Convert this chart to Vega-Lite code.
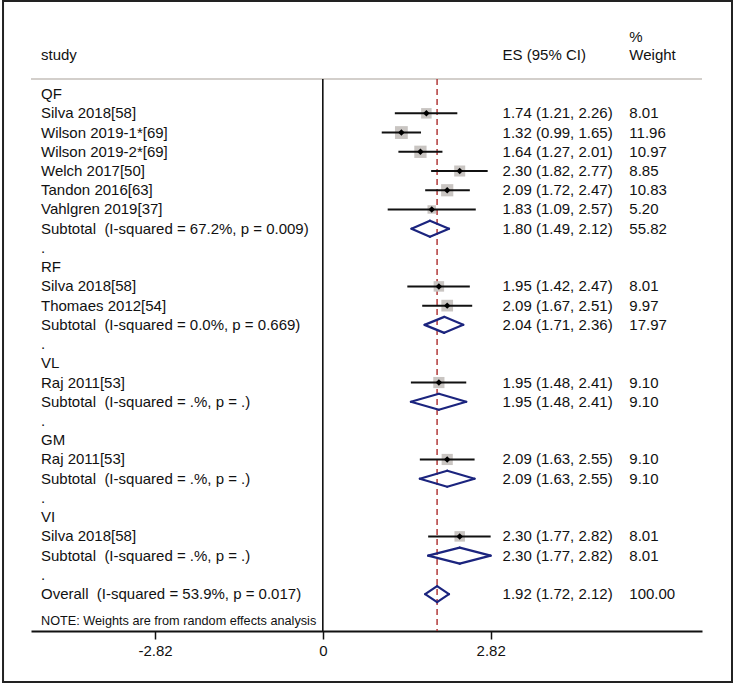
{
  "$schema": "https://vega.github.io/schema/vega-lite/v6.json",
  "width": 671,
  "height": 552,
  "autosize": {"type": "none"},
  "padding": {"left": 31, "top": 79, "right": 33, "bottom": 53},
  "background": "white",
  "config": {
    "view": {"stroke": null},
    "font": "Liberation Sans",
    "text": {"font": "Liberation Sans", "fontSize": 15, "color": "#111111"},
    "axisX": {
      "labelExpr": "toString(datum.value)",
      "grid": false,
      "domainColor": "#111111",
      "domainWidth": 1.8,
      "tickColor": "#111111",
      "tickWidth": 1.5,
      "tickSize": 8,
      "labelFont": "Liberation Sans",
      "labelFontSize": 15,
      "labelColor": "#111111",
      "labelPadding": 4,
      "labelFlush": false,
      "labelOverlap": false
    }
  },
  "datasets": {
    "rows": [
      {"row": 0, "label": "QF", "type": "group"},
      {"row": 1, "label": "Silva 2018[58]", "type": "study", "es": 1.74, "lo": 1.21, "hi": 2.26, "w": 8.01, "esText": "1.74 (1.21, 2.26)", "wText": "8.01"},
      {"row": 2, "label": "Wilson 2019-1*[69]", "type": "study", "es": 1.32, "lo": 0.99, "hi": 1.65, "w": 11.96, "esText": "1.32 (0.99, 1.65)", "wText": "11.96"},
      {"row": 3, "label": "Wilson 2019-2*[69]", "type": "study", "es": 1.64, "lo": 1.27, "hi": 2.01, "w": 10.97, "esText": "1.64 (1.27, 2.01)", "wText": "10.97"},
      {"row": 4, "label": "Welch 2017[50]", "type": "study", "es": 2.30, "lo": 1.82, "hi": 2.77, "w": 8.85, "esText": "2.30 (1.82, 2.77)", "wText": "8.85"},
      {"row": 5, "label": "Tandon 2016[63]", "type": "study", "es": 2.09, "lo": 1.72, "hi": 2.47, "w": 10.83, "esText": "2.09 (1.72, 2.47)", "wText": "10.83"},
      {"row": 6, "label": "Vahlgren 2019[37]", "type": "study", "es": 1.83, "lo": 1.09, "hi": 2.57, "w": 5.20, "esText": "1.83 (1.09, 2.57)", "wText": "5.20"},
      {"row": 7, "label": "Subtotal\u00a0 (I-squared = 67.2%, p = 0.009)", "type": "sub", "es": 1.80, "lo": 1.49, "hi": 2.12, "w": 55.82, "esText": "1.80 (1.49, 2.12)", "wText": "55.82"},
      {"row": 8, "label": ".", "type": "blank"},
      {"row": 9, "label": "RF", "type": "group"},
      {"row": 10, "label": "Silva 2018[58]", "type": "study", "es": 1.95, "lo": 1.42, "hi": 2.47, "w": 8.01, "esText": "1.95 (1.42, 2.47)", "wText": "8.01"},
      {"row": 11, "label": "Thomaes 2012[54]", "type": "study", "es": 2.09, "lo": 1.67, "hi": 2.51, "w": 9.97, "esText": "2.09 (1.67, 2.51)", "wText": "9.97"},
      {"row": 12, "label": "Subtotal\u00a0 (I-squared = 0.0%, p = 0.669)", "type": "sub", "es": 2.04, "lo": 1.71, "hi": 2.36, "w": 17.97, "esText": "2.04 (1.71, 2.36)", "wText": "17.97"},
      {"row": 13, "label": ".", "type": "blank"},
      {"row": 14, "label": "VL", "type": "group"},
      {"row": 15, "label": "Raj 2011[53]", "type": "study", "es": 1.95, "lo": 1.48, "hi": 2.41, "w": 9.10, "esText": "1.95 (1.48, 2.41)", "wText": "9.10"},
      {"row": 16, "label": "Subtotal\u00a0 (I-squared = .%, p = .)", "type": "sub", "es": 1.95, "lo": 1.48, "hi": 2.41, "w": 9.10, "esText": "1.95 (1.48, 2.41)", "wText": "9.10"},
      {"row": 17, "label": ".", "type": "blank"},
      {"row": 18, "label": "GM", "type": "group"},
      {"row": 19, "label": "Raj 2011[53]", "type": "study", "es": 2.09, "lo": 1.63, "hi": 2.55, "w": 9.10, "esText": "2.09 (1.63, 2.55)", "wText": "9.10"},
      {"row": 20, "label": "Subtotal\u00a0 (I-squared = .%, p = .)", "type": "sub", "es": 2.09, "lo": 1.63, "hi": 2.55, "w": 9.10, "esText": "2.09 (1.63, 2.55)", "wText": "9.10"},
      {"row": 21, "label": ".", "type": "blank"},
      {"row": 22, "label": "VI", "type": "group"},
      {"row": 23, "label": "Silva 2018[58]", "type": "study", "es": 2.30, "lo": 1.77, "hi": 2.82, "w": 8.01, "esText": "2.30 (1.77, 2.82)", "wText": "8.01"},
      {"row": 24, "label": "Subtotal\u00a0 (I-squared = .%, p = .)", "type": "sub", "es": 2.30, "lo": 1.77, "hi": 2.82, "w": 8.01, "esText": "2.30 (1.77, 2.82)", "wText": "8.01"},
      {"row": 25, "label": ".", "type": "blank"},
      {"row": 26, "label": "Overall\u00a0 (I-squared = 53.9%, p = 0.017)", "type": "overall", "es": 1.92, "lo": 1.72, "hi": 2.12, "w": 100.00, "esText": "1.92 (1.72, 2.12)", "wText": "100.00"}
    ]
  },
  "data": {"name": "rows"},
  "layer": [
    {
      "data": {"values": [{}]},
      "mark": {"type": "rect", "filled": false, "stroke": "#222222", "strokeWidth": 2},
      "encoding": {
        "x": {"datum": -5.373, "type": "quantitative", "title": null, "scale": {"domain": [-4.903, 6.371], "nice": false, "zero": false}, "axis": {"values": [-2.82, 0, 2.82]}},
        "x2": {"datum": 6.875},
        "y": {"datum": -4.841, "type": "quantitative", "scale": {"domain": [-0.785, 27.92], "nice": false, "zero": false, "reverse": true}, "axis": null},
        "y2": {"datum": 30.57}
      }
    },
    {
      "data": {"values": [{}]},
      "mark": {"type": "rule", "color": "#d3cfcb", "strokeWidth": 1.8},
      "encoding": {
        "y": {"datum": -0.785, "type": "quantitative", "scale": {"domain": [-0.785, 27.92], "nice": false, "zero": false, "reverse": true}, "axis": null}
      }
    },
    {
      "data": {"values": [{}]},
      "mark": {"type": "rule", "color": "#111111", "strokeWidth": 1.6},
      "encoding": {
        "x": {"datum": 0, "type": "quantitative", "title": null, "scale": {"domain": [-4.903, 6.371], "nice": false, "zero": false}, "axis": {"values": [-2.82, 0, 2.82]}}
      }
    },
    {
      "transform": [{"filter": "datum.type == 'overall'"}],
      "mark": {"type": "rule", "color": "#b23a3a", "strokeWidth": 1.5, "strokeDash": [6, 4]},
      "encoding": {
        "x": {"field": "es", "type": "quantitative", "title": null, "scale": {"domain": [-4.903, 6.371], "nice": false, "zero": false}, "axis": {"values": [-2.82, 0, 2.82]}}
      }
    },
    {
      "transform": [{"filter": "datum.type == 'study'"}],
      "mark": {"type": "point", "shape": "square", "filled": true, "color": "#c9c5c2", "opacity": 1},
      "encoding": {
        "x": {"field": "es", "type": "quantitative", "title": null, "scale": {"domain": [-4.903, 6.371], "nice": false, "zero": false}, "axis": {"values": [-2.82, 0, 2.82]}},
        "y": {"field": "row", "type": "quantitative", "scale": {"domain": [-0.785, 27.92], "nice": false, "zero": false, "reverse": true}, "axis": null},
        "size": {"field": "w", "type": "quantitative", "scale": {"type": "linear", "domain": [0, 12], "range": [0, 165]}, "legend": null}
      }
    },
    {
      "transform": [{"filter": "datum.type == 'study'"}],
      "mark": {"type": "rule", "color": "#111111", "strokeWidth": 2},
      "encoding": {
        "x": {"field": "lo", "type": "quantitative", "title": null, "scale": {"domain": [-4.903, 6.371], "nice": false, "zero": false}, "axis": {"values": [-2.82, 0, 2.82]}},
        "x2": {"field": "hi"},
        "y": {"field": "row", "type": "quantitative", "scale": {"domain": [-0.785, 27.92], "nice": false, "zero": false, "reverse": true}, "axis": null}
      }
    },
    {
      "transform": [{"filter": "datum.type == 'study'"}],
      "mark": {"type": "point", "shape": "diamond", "filled": true, "color": "#000000", "size": 42, "opacity": 1},
      "encoding": {
        "x": {"field": "es", "type": "quantitative", "title": null, "scale": {"domain": [-4.903, 6.371], "nice": false, "zero": false}, "axis": {"values": [-2.82, 0, 2.82]}},
        "y": {"field": "row", "type": "quantitative", "scale": {"domain": [-0.785, 27.92], "nice": false, "zero": false, "reverse": true}, "axis": null}
      }
    },
    {
      "transform": [{"filter": "datum.type == 'sub' || datum.type == 'overall'"}],
      "mark": {"type": "rule", "color": "#1b247e", "strokeWidth": 2.2, "strokeCap": "round", "y2Offset": -8},
      "encoding": {
        "x": {"field": "lo", "type": "quantitative", "title": null, "scale": {"domain": [-4.903, 6.371], "nice": false, "zero": false}, "axis": {"values": [-2.82, 0, 2.82]}},
        "x2": {"field": "es"},
        "y": {"field": "row", "type": "quantitative", "scale": {"domain": [-0.785, 27.92], "nice": false, "zero": false, "reverse": true}, "axis": null},
        "y2": {"field": "row"}
      }
    },
    {
      "transform": [{"filter": "datum.type == 'sub' || datum.type == 'overall'"}],
      "mark": {"type": "rule", "color": "#1b247e", "strokeWidth": 2.2, "strokeCap": "round", "y2Offset": 8},
      "encoding": {
        "x": {"field": "lo", "type": "quantitative", "title": null, "scale": {"domain": [-4.903, 6.371], "nice": false, "zero": false}, "axis": {"values": [-2.82, 0, 2.82]}},
        "x2": {"field": "es"},
        "y": {"field": "row", "type": "quantitative", "scale": {"domain": [-0.785, 27.92], "nice": false, "zero": false, "reverse": true}, "axis": null},
        "y2": {"field": "row"}
      }
    },
    {
      "transform": [{"filter": "datum.type == 'sub' || datum.type == 'overall'"}],
      "mark": {"type": "rule", "color": "#1b247e", "strokeWidth": 2.2, "strokeCap": "round", "yOffset": -8},
      "encoding": {
        "x": {"field": "es", "type": "quantitative", "title": null, "scale": {"domain": [-4.903, 6.371], "nice": false, "zero": false}, "axis": {"values": [-2.82, 0, 2.82]}},
        "x2": {"field": "hi"},
        "y": {"field": "row", "type": "quantitative", "scale": {"domain": [-0.785, 27.92], "nice": false, "zero": false, "reverse": true}, "axis": null},
        "y2": {"field": "row"}
      }
    },
    {
      "transform": [{"filter": "datum.type == 'sub' || datum.type == 'overall'"}],
      "mark": {"type": "rule", "color": "#1b247e", "strokeWidth": 2.2, "strokeCap": "round", "yOffset": 8},
      "encoding": {
        "x": {"field": "es", "type": "quantitative", "title": null, "scale": {"domain": [-4.903, 6.371], "nice": false, "zero": false}, "axis": {"values": [-2.82, 0, 2.82]}},
        "x2": {"field": "hi"},
        "y": {"field": "row", "type": "quantitative", "scale": {"domain": [-0.785, 27.92], "nice": false, "zero": false, "reverse": true}, "axis": null},
        "y2": {"field": "row"}
      }
    },
    {
      "mark": {"type": "text", "align": "left", "baseline": "middle", "fontSize": 15},
      "encoding": {
        "x": {"datum": -4.735, "type": "quantitative", "title": null, "scale": {"domain": [-4.903, 6.371], "nice": false, "zero": false}, "axis": {"values": [-2.82, 0, 2.82]}},
        "y": {"field": "row", "type": "quantitative", "scale": {"domain": [-0.785, 27.92], "nice": false, "zero": false, "reverse": true}, "axis": null},
        "text": {"field": "label", "type": "nominal"}
      }
    },
    {
      "transform": [{"filter": "isValid(datum.esText)"}],
      "mark": {"type": "text", "align": "left", "baseline": "middle", "fontSize": 15},
      "encoding": {
        "x": {"datum": 3.02, "type": "quantitative", "title": null, "scale": {"domain": [-4.903, 6.371], "nice": false, "zero": false}, "axis": {"values": [-2.82, 0, 2.82]}},
        "y": {"field": "row", "type": "quantitative", "scale": {"domain": [-0.785, 27.92], "nice": false, "zero": false, "reverse": true}, "axis": null},
        "text": {"field": "esText", "type": "nominal"}
      }
    },
    {
      "transform": [{"filter": "isValid(datum.wText)"}],
      "mark": {"type": "text", "align": "left", "baseline": "middle", "fontSize": 15},
      "encoding": {
        "x": {"datum": 5.15, "type": "quantitative", "title": null, "scale": {"domain": [-4.903, 6.371], "nice": false, "zero": false}, "axis": {"values": [-2.82, 0, 2.82]}},
        "y": {"field": "row", "type": "quantitative", "scale": {"domain": [-0.785, 27.92], "nice": false, "zero": false, "reverse": true}, "axis": null},
        "text": {"field": "wText", "type": "nominal"}
      }
    },
    {
      "data": {"values": [{"t": "study"}]},
      "mark": {"type": "text", "align": "left", "baseline": "middle", "fontSize": 15},
      "encoding": {
        "x": {"datum": -4.735, "type": "quantitative", "title": null, "scale": {"domain": [-4.903, 6.371], "nice": false, "zero": false}, "axis": {"values": [-2.82, 0, 2.82]}},
        "y": {"datum": -2.03, "type": "quantitative", "scale": {"domain": [-0.785, 27.92], "nice": false, "zero": false, "reverse": true}, "axis": null},
        "text": {"field": "t", "type": "nominal"}
      }
    },
    {
      "data": {"values": [{"t": "ES (95% CI)"}]},
      "mark": {"type": "text", "align": "left", "baseline": "middle", "fontSize": 15},
      "encoding": {
        "x": {"datum": 3.02, "type": "quantitative", "title": null, "scale": {"domain": [-4.903, 6.371], "nice": false, "zero": false}, "axis": {"values": [-2.82, 0, 2.82]}},
        "y": {"datum": -2.03, "type": "quantitative", "scale": {"domain": [-0.785, 27.92], "nice": false, "zero": false, "reverse": true}, "axis": null},
        "text": {"field": "t", "type": "nominal"}
      }
    },
    {
      "data": {"values": [{"t": "Weight"}]},
      "mark": {"type": "text", "align": "left", "baseline": "middle", "fontSize": 15},
      "encoding": {
        "x": {"datum": 5.15, "type": "quantitative", "title": null, "scale": {"domain": [-4.903, 6.371], "nice": false, "zero": false}, "axis": {"values": [-2.82, 0, 2.82]}},
        "y": {"datum": -2.03, "type": "quantitative", "scale": {"domain": [-0.785, 27.92], "nice": false, "zero": false, "reverse": true}, "axis": null},
        "text": {"field": "t", "type": "nominal"}
      }
    },
    {
      "data": {"values": [{"t": "%"}]},
      "mark": {"type": "text", "align": "left", "baseline": "middle", "fontSize": 15},
      "encoding": {
        "x": {"datum": 5.15, "type": "quantitative", "title": null, "scale": {"domain": [-4.903, 6.371], "nice": false, "zero": false}, "axis": {"values": [-2.82, 0, 2.82]}},
        "y": {"datum": -2.97, "type": "quantitative", "scale": {"domain": [-0.785, 27.92], "nice": false, "zero": false, "reverse": true}, "axis": null},
        "text": {"field": "t", "type": "nominal"}
      }
    },
    {
      "data": {"values": [{"t": "NOTE: Weights are from random effects analysis"}]},
      "mark": {"type": "text", "align": "left", "baseline": "middle", "fontSize": 12.7},
      "encoding": {
        "x": {"datum": -4.735, "type": "quantitative", "title": null, "scale": {"domain": [-4.903, 6.371], "nice": false, "zero": false}, "axis": {"values": [-2.82, 0, 2.82]}},
        "y": {"datum": 27.4, "type": "quantitative", "scale": {"domain": [-0.785, 27.92], "nice": false, "zero": false, "reverse": true}, "axis": null},
        "text": {"field": "t", "type": "nominal"}
      }
    }
  ]
}
